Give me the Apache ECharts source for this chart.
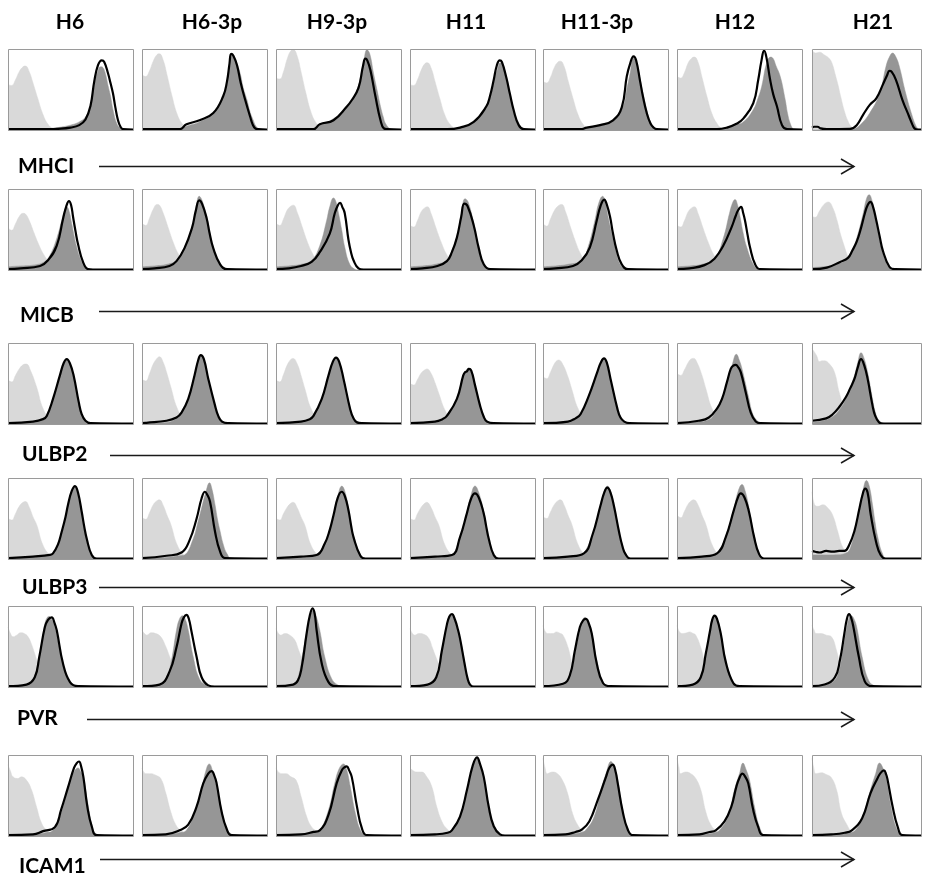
<!DOCTYPE html>
<html><head><meta charset="utf-8">
<script src="https://cdn.jsdelivr.net/npm/echarts@6/dist/echarts.min.js"></script>
<style>html,body{margin:0;padding:0;background:#fff}#c{width:926px;height:876px}</style>
</head><body><div id="c"></div>
<script>
// ---------------- DATA (x = % of log-fluorescence axis, y = % of panel height) ----------------
const CELL_LINES = ['H6', 'H6-3p', 'H9-3p', 'H11', 'H11-3p', 'H12', 'H21'];
const MARKERS = ['MHCI', 'MICB', 'ULBP2', 'ULBP3', 'PVR', 'ICAM1'];

// MHCI
const MHCI_ISOTYPE = [
  [[0,56],[3,55],[6,62],[9,72],[12,78],[14,79],[17,72],[20,58],[24,38],[28,19],[32,7],[36,2],[42,0.5],[100,0]],
  [[0,68],[3,66],[6,73],[9,85],[12,93],[14,94],[17,86],[20,68],[24,42],[28,20],[32,8],[36,3],[42,0.5],[100,0]],
  [[0,64],[3,63],[6,72],[9,88],[12,98],[14,99],[17,91],[20,72],[24,45],[28,22],[32,9],[36,3],[42,0.5],[100,0]],
  [[0,56],[3,55],[6,62],[9,74],[12,82],[14,83],[17,76],[20,60],[24,38],[28,18],[32,7],[36,2],[42,0.5],[100,0]],
  [[0,60],[3,58],[6,65],[9,77],[12,84],[14,85],[17,78],[20,61],[24,39],[28,19],[32,7],[36,2],[42,0.5],[100,0]],
  [[0,66],[3,64],[6,71],[9,83],[12,89],[14,90],[17,83],[20,65],[24,41],[28,20],[32,8],[36,2],[42,0.5],[100,0]],
  [[0,99],[3,95],[7,96],[11,93],[16,88],[19,80],[21,70],[24,55],[26,43],[30,22],[33,11],[36,4],[39,1],[45,0],[100,0]]
];
const MHCI_FILLED = [
  [[0,0],[30,0.5],[40,3],[50,6],[57,10],[62,16],[66,30],[69,55],[72,73],[74,78],[76,77],[78,69],[80,55],[82,42],[84,25],[87,8],[90,2],[93,0],[100,0]],
  [[0,0],[30,1],[36,5],[46,10],[57,21],[65,41],[68,60],[70.5,79],[72,93],[74,90],[78.5,70],[81,52],[84,37],[86.5,22],[89,12],[91,5],[93,2],[96,0],[100,0]],
  [[0,0],[30,1],[35,6],[46,14],[56.7,29],[64.8,50],[70,83],[72.8,99],[75,94],[78,70],[81,48],[83.6,29],[86,15],[87.6,8],[91.6,1],[95,0],[100,0]],
  [[0,0],[30,1],[40,3],[51,10],[61,29],[65,45],[67,58],[70,75],[72.4,83],[74,82],[77.7,62],[80,45],[83,25],[87,6],[91,1],[94,0],[100,0]],
  [[0,0],[30,1],[35,3],[45.6,6],[56,12],[64,29],[67,50],[69.7,70],[72.4,89],[74.5,85],[77.7,62],[80,45],[83,25],[86,10],[88.5,4],[92,0],[100,0]],
  [[0,0],[32,0.5],[37,2],[45,6],[53,10],[61,25],[65,40],[67.8,54],[71.8,83],[75,90],[77,88],[79,80],[82.6,66],[86.6,37],[88.5,20],[90.6,8],[93,1],[95,0],[100,0]],
  [[0,0],[35,0.5],[38,1],[44,6],[53,21],[62,45],[68,79],[71,90],[74,95],[77,90],[80,79],[86,45],[92,17],[95,6],[97,2],[99,0],[100,0]]
];
const MHCI_LINE = [
  [[0,1],[30,1],[40,1.5],[50,3],[57,6],[62,13],[66,30],[69,60],[72,80],[75,86],[77,84],[80,70],[82,58],[84,45],[86,27],[88,12],[90,4],[92,1],[100,0.5]],
  [[0,1],[30,1],[35.6,7],[46,12],[57,21],[65,42],[68,60],[70,82],[71.3,94],[73,92],[76,80],[79,58],[82.6,37],[86.6,16],[88.5,7],[90.6,2],[93,1],[100,0.5]],
  [[0,1],[30,1],[35,7],[46,12],[56.7,29],[60.7,37],[66,52],[69.6,79],[71.5,88],[73,86],[75.5,74],[79.6,41],[83.6,12],[86.3,2],[89,1],[100,0.5]],
  [[0,1],[30,1],[40,3],[51,10],[61,29],[64,42],[67,62],[69.5,80],[71.8,86],[73.5,84],[77,65],[80,44],[83,24],[87,6],[91,1],[100,0.5]],
  [[0,1],[30,1],[35,3],[45.6,6],[56,12],[63,28],[67,66],[69.7,82],[72.4,91],[74.5,86],[77.7,60],[80,41],[83,21],[86,8],[88.5,3],[91,1],[100,0.5]],
  [[0,1],[32,1],[40,3],[48,8],[53,14],[61,33],[65,62],[67.5,85],[69.7,98],[71.5,90],[74.5,62],[77,44],[80,29],[84,6],[88,1],[100,0.5]],
  [[0,3],[2,4],[5,4],[8,2],[13.6,1],[35,1.5],[41,6],[47,19],[53,31],[59,39],[65,56],[69,68],[71,73],[73,72],[77,62],[83,37],[89,17],[92,7],[94,2],[97,0.5],[100,0.5]]
];

// MICB
const MICB_ISOTYPE = [
  [[0,52],[3,49],[6,57],[9,66],[12,70],[14,69],[17,61],[21,45],[25,30],[29,18],[33,10],[37,5],[42,2],[48,0.5],[100,0]],
  [[0,57],[3,55],[6,64],[9,75],[12,81],[14,80],[17,70],[21,52],[25,34],[29,20],[33,11],[37,5],[42,2],[48,0.5],[100,0]],
  [[0,57],[3,55],[6,63],[9,74],[12,79],[14,80],[17,71],[21,53],[25,35],[29,21],[33,11],[37,5],[42,2],[48,0.5],[100,0]],
  [[0,55],[3,53],[6,61],[9,72],[12,77],[14,78],[17,69],[21,51],[25,34],[29,20],[33,11],[37,5],[42,2],[48,0.5],[100,0]],
  [[0,57],[3,54],[6,63],[9,73],[12,79],[15,81],[18,72],[22,53],[26,35],[30,20],[34,10],[38,5],[43,2],[48,0.5],[100,0]],
  [[0,55],[3,53],[6,61],[9,72],[12,77],[14,78],[17,69],[21,51],[25,34],[29,20],[33,11],[37,5],[42,2],[48,0.5],[100,0]],
  [[0,66],[3,65],[7,73],[11,81],[15,84],[19,77],[23,61],[26,45],[29,32],[33,16],[36,8],[38,5],[42,2],[48,0.5],[100,0]]
];
const MICB_FILLED = [
  [[0,4],[10,5],[20,6],[29,10],[33.5,18],[39,39],[43,61],[45,72],[47,78],[49,72],[51,57],[55,28],[59,10],[63,1],[66,0],[100,0]],
  [[0,4],[10,5],[20,7],[27.6,12],[34,28],[40,53],[43,75],[45.8,91],[48,86],[51.7,66],[54,48],[57,28],[62.5,7],[68,1],[71,0],[100,0]],
  [[0,4],[10,5],[20,7],[28.5,12],[35,30],[40.5,61],[43,78],[46,89],[48,84],[50,70],[52.5,50],[55,28],[59,7],[63,1],[66,0],[100,0]],
  [[0,4],[10,5],[20,7],[29.5,12],[33.5,24],[37.5,41],[41,68],[44,88],[46.5,84],[51,57],[55,28],[59,7],[64,1],[67,0],[100,0]],
  [[0,4],[10,5],[20,7],[31,12],[36,28],[41.5,61],[44.5,82],[47.7,91],[50,82],[52,66],[55,45],[57.6,28],[61.7,7],[67,1],[70,0],[100,0]],
  [[0,4],[10,5],[20,7],[30,14],[37,39],[42,70],[44.5,83],[46.4,87],[48.5,80],[50.4,66],[53,45],[55.8,28],[61,7],[65,1],[68,0],[100,0]],
  [[0,3],[10,4],[20,6],[33,14],[37,25],[41,39],[47,70],[50,88],[52.4,93],[55,86],[57.6,70],[60.5,48],[63.6,28],[69.7,5],[74,1],[77,0],[100,0]]
];
const MICB_LINE = [
  [[0,1],[10,2],[25.7,5],[32,12],[39,30],[44,63],[46.5,78],[48.8,85],[50.5,80],[52,66],[54,48],[56,32],[60,10],[64,1],[68,0.5],[100,0.5]],
  [[0,1],[10,2],[22,5],[27.6,11],[34,27],[40,52],[43,73],[45.8,86],[48,82],[51.7,64],[54,46],[57,27],[62.5,7],[68,1],[100,0.5]],
  [[0,1],[10,2],[20,5],[28.5,10],[35,22],[43,45],[47,70],[49.5,80],[51.3,83],[53,78],[55,70],[58,37],[60,22],[62,12],[66,2],[70,0.5],[100,0.5]],
  [[0,1],[10,2],[22,5],[29.5,11],[33.5,22],[37.5,40],[41,66],[43.4,82],[46,79],[51,55],[55,27],[59,7],[64,1],[100,0.5]],
  [[0,1],[10,2],[24,5],[31,12],[37.5,28],[43,61],[46,79],[49,87],[51,81],[53.6,66],[56,45],[59,24],[63,7],[68,1],[100,0.5]],
  [[0,1],[10,2],[22,6],[30,14],[37,30],[43.7,53],[47,67],[49,74],[51.2,78],[53,70],[54.4,61],[56.5,43],[58.4,28],[62.5,7],[66.5,1],[100,0.5]],
  [[0,1],[13.6,3],[25.8,10],[33,15],[37,24],[41,35],[45,52],[48.5,70],[51,80],[53.6,84],[56,78],[59,61],[62,42],[65,24],[71,4],[76,1],[100,0.5]]
];

// ULBP2
const ULBP2_ISOTYPE = [
  [[0,54],[3,52],[6,60],[9,68],[12,73],[14.7,74],[18,66],[23,45],[28,19],[33.5,6],[39,1],[45,0],[100,0]],
  [[0,55],[3,53],[6,62],[9,74],[12,81],[14,83],[17,76],[20,62],[23,46],[28,20],[33.5,6],[39,1],[45,0],[100,0]],
  [[0,54],[3,52],[6,61],[9,73],[12,80],[13.7,81],[17,74],[20,60],[23,44],[28,19],[33.5,6],[39,1],[45,0],[100,0]],
  [[0,50],[3,48],[6,55],[9,63],[12,67],[13.7,68],[17,62],[20,51],[23,38],[28,17],[33.5,5],[39,1],[45,0],[100,0]],
  [[0,58],[3,56],[6,64],[9,74],[11,78],[12.6,79],[16,73],[20,58],[23,43],[28,19],[33.5,6],[39,1],[45,0],[100,0]],
  [[0,62],[3,60],[6,67],[9,76],[11,80],[13.4,81],[16,76],[20,60],[23,44],[28,19],[33.5,6],[39,1],[45,0],[100,0]],
  [[0,93],[4,85],[7,77],[9,78],[11.5,78],[16,74],[20.6,64],[25,39],[31,14],[37,4],[43,1],[48,0],[100,0]]
];
const ULBP2_FILLED = [
  [[0,1],[20,2],[28,5],[31,10],[36,31],[41.5,60],[44.5,74],[47,79],[49.5,74],[52.5,60],[56.6,27],[59,13],[62,4],[66,1],[70,0],[100,0]],
  [[0,1],[20,2],[28,7],[31.6,14],[37,31],[42,60],[45,79],[47,85],[49.5,80],[53,56],[58.4,23],[61,11],[64,4],[69,1],[72,0],[100,0]],
  [[0,1],[20,2],[27,5],[30,10],[36.6,31],[42,60],[45.5,77],[48,82],[50.5,77],[54,56],[59.4,19],[62,8],[64.8,3],[68.8,1],[72,0],[100,0]],
  [[0,1],[20,2],[26,5],[29.5,10],[37.5,31],[42.6,60],[45,66],[47,69],[49,67],[52,48],[56,23],[59,10],[61.6,4],[67,1],[70,0],[100,0]],
  [[0,1],[20,2],[26,6],[30,12],[36.7,35],[43.4,64],[46,75],[48.8,81],[51,76],[54,56],[59.5,19],[62,9],[65,3],[69,1],[72,0],[100,0]],
  [[0,1],[20,3],[25,5],[28,8],[35,27],[40,52],[44,72],[47.5,86],[50,78],[52,68],[57.6,31],[60,15],[63,6],[67,1],[70,0],[100,0]],
  [[0,2],[10,4],[20,10],[25,17],[31,31],[39,60],[42,76],[45,88],[48,80],[51,64],[55.5,31],[58,15],[61.5,4],[66,1],[70,0],[100,0]]
];
const ULBP2_LINE = [
  [[0,1],[20,3],[28,6],[31,10],[36,31],[41.5,60],[44.5,75],[47,80],[49.5,75],[52.5,60],[56.6,27],[59,12],[62,4],[66,1],[100,0.5]],
  [[0,1],[3.5,1.5],[19.6,4],[27.6,8],[31.6,14],[37,31],[42,60],[45,79],[47,85],[49.5,80],[53,56],[58.4,23],[61,10],[64,3],[69,1],[100,0.5]],
  [[0,1],[20,3],[27,6],[30,10],[36.6,31],[42,60],[45.5,77],[48,82],[50.5,77],[54,56],[59.4,18],[62,7],[64.8,2],[68.8,1],[100,0.5]],
  [[0,1],[20,3],[26,6],[29.5,10],[37.5,31],[42.6,60],[44,64],[45.5,65],[47,68],[49,66],[52,48],[56,23],[59,9],[61.6,3],[67,1],[100,0.5]],
  [[0,1],[20,3],[26,7],[30,12],[36.7,35],[43.4,64],[46,75],[48.8,81],[51,76],[54,56],[59.5,19],[62,8],[65,3],[69,1],[100,0.5]],
  [[0,1],[17.4,4],[25.5,8],[32,19],[36,31],[40,52],[43,68],[45,72],[47,73],[49,70],[51,64],[55,39],[59,14],[63,3],[67,1],[100,0.5]],
  [[0,4],[13,7],[19,12],[25,21],[31,33],[35,44],[39,56],[42,70],[45,80],[48,72],[51,56],[55.5,23],[58,10],[61.5,2],[65,0.5],[100,0.5]]
];

// ULBP3
const ULBP3_ISOTYPE = [
  [[0,50],[3,48],[6,56],[9,65],[12,70],[14,71],[17,64],[20,52],[23,42],[28,17],[33.5,5],[39,1],[44,0],[100,0]],
  [[0,51],[3,49],[6,57],[9,67],[12,72],[14,73],[17,66],[20,54],[23,43],[28,18],[33.5,5],[39,1],[44,0],[100,0]],
  [[0,50],[3,48],[6,56],[9,64],[12,69],[13.7,70],[17,63],[20,52],[23,42],[28,17],[33.5,5],[39,1],[44,0],[100,0]],
  [[0,50],[3,48],[6,56],[9,64],[12,69],[13.4,70],[17,63],[20,52],[23,42],[28,17],[33.5,5],[39,1],[44,0],[100,0]],
  [[0,52],[3,50],[6,58],[9,67],[12,72],[14,73],[17,66],[20,54],[23,43],[28,18],[33.5,5],[39,1],[44,0],[100,0]],
  [[0,54],[3,51],[6,59],[9,68],[11.5,72],[13.4,73],[17,66],[20,54],[23,43],[28,18],[33.5,5],[39,1],[44,0],[100,0]],
  [[0,83],[2.4,67],[5.5,65],[10,67],[14.5,63],[19,54],[23.6,34],[28,15],[32.7,7],[37,2],[42,0],[100,0]]
];
const ULBP3_FILLED = [
  [[0,1],[20,2],[30,4],[36,7],[40,18],[43,34],[46,52],[48,67],[51,84],[53.6,90],[56,82],[59,58],[61,40],[63,25],[67,5],[71,0],[100,0]],
  [[0,1],[20,2],[30,4],[34,5],[41,25],[44.5,44],[47.7,63],[51,82],[54,94],[56,86],[58.4,67],[60.5,48],[62.5,34],[65,18],[67.8,7],[72,0],[100,0]],
  [[0,1],[20,2],[30,4],[32.5,5],[39,19],[43,36],[46,54],[49.5,78],[52.7,90],[55,84],[58,63],[60,45],[62,29],[67.5,5],[71.5,0],[100,0]],
  [[0,1],[20,2],[30,4],[33.5,5],[40,27],[45.6,58],[49,80],[52,90],[55,82],[59,58],[61,40],[63,25],[67,5],[71,0],[100,0]],
  [[0,1],[20,2],[30,5],[32.7,7],[39.4,29],[46,67],[49,84],[51.5,90],[54,84],[56.8,67],[60.9,34],[63.5,17],[66,7],[70,0],[100,0]],
  [[0,1],[20,2],[30,5],[32,7],[39,27],[45.6,63],[49,84],[52,92],[54.5,84],[57.6,63],[61.7,29],[65.7,7],[69.7,0],[100,0]],
  [[0,5],[10,5],[20,5],[31,7],[37,21],[40,40],[43.6,63],[47,86],[50,97],[52.5,90],[55.5,67],[58,44],[60,29],[64.5,7],[69,0],[100,0]]
];
const ULBP3_LINE = [
  [[0,1],[20,3],[33.5,5],[36,7],[40,18],[43,34],[46,52],[48,67],[51,84],[53.6,90],[56,82],[59,58],[61,40],[63,25],[67,5],[71,0.5],[100,0.5]],
  [[0,1],[19.6,4],[31.6,8],[38,23],[43.7,50],[47.7,75],[50.4,83],[52,80],[54.4,71],[58.4,34],[62.5,9],[66.5,1],[100,0.5]],
  [[0,1],[20,3],[32.5,5],[39,19],[43,36],[46,54],[49.5,76],[52.5,83],[55,78],[58,60],[60,42],[62,27],[67.5,4],[71.5,0.5],[100,0.5]],
  [[0,1],[20,3],[33.5,5],[40,27],[45.6,57],[49,75],[52,81],[55,76],[59,56],[61,40],[63,25],[67,5],[71,0.5],[100,0.5]],
  [[0,1],[20,3],[32.7,7],[39.4,29],[46,66],[49,82],[51.5,88],[54,82],[56.8,65],[60.9,33],[63.5,16],[66,6],[70,0.5],[100,0.5]],
  [[0,1],[20,3],[32,7],[39,27],[45.6,61],[49,77],[51,81],[54,76],[57.6,58],[61.7,27],[65.7,6],[69.7,0.5],[100,0.5]],
  [[0,10],[3,9],[7,8],[13,10],[19,9],[25,10],[29.7,10],[34,17],[38.8,34],[43.6,63],[46.5,80],[48.8,87],[51,82],[54,54],[58.8,21],[63,5],[67.6,0.5],[100,0.5]]
];

// PVR
const PVR_ISOTYPE = [
  [[0,74],[2,66],[4,62],[7,64],[10,67],[13,66],[16,62],[19,52],[22,38],[25,24],[28,14],[31,8],[35,3],[40,1],[45,0],[100,0]],
  [[0,70],[2,66],[4,64],[7,67],[11,66],[15,62],[19,50],[22,38],[26,22],[30,12],[34,5],[40,1],[46,0],[100,0]],
  [[0,72],[2,66],[4,64],[7,66],[11,64],[15,58],[18,46],[21,34],[25,20],[29,10],[33,4],[38,1],[45,0],[100,0]],
  [[0,72],[2,66],[4,64],[7,66],[11,65],[15,60],[18,48],[22,32],[26,18],[30,9],[34,4],[39,1],[45,0],[100,0]],
  [[0,76],[2,68],[4,66],[8,66],[10.7,68],[14,66],[16,64],[20,49],[24,25],[28,10],[33.5,2],[40,0],[100,0]],
  [[0,76],[2,68],[4.5,66],[8,67],[10,68],[13,66],[15,64],[19,49],[23,25],[27,10],[33,2],[39,0],[100,0]],
  [[0,76],[2,70],[3.7,66],[8.4,66],[13,64],[17.8,62],[22.5,45],[27,21],[32,8],[38,2],[43,0],[100,0]]
];
const PVR_FILLED = [
  [[0,1],[10,2],[15,3],[18.8,6],[22.8,21],[26.8,53],[29.5,78],[31.5,86],[33,87],[35,83],[37.5,74],[41.5,45],[44,28],[47,14],[52,3],[57.6,1],[62,0],[100,0]],
  [[0,1],[10,2],[15,4],[19.6,10],[23.6,33],[27.6,70],[30,84],[32.4,88],[34.5,84],[37,70],[41,37],[46,10],[51.7,2],[57,0],[100,0]],
  [[0,1],[10,2],[14,4],[17.7,12],[21.8,45],[25.8,78],[28,91],[29.8,95],[32,88],[35,70],[39,37],[44.6,10],[50,2],[54,0],[100,0]],
  [[0,1],[10,2],[16,4],[21.4,12],[25.5,45],[29.5,76],[31.5,86],[33.5,88],[36,82],[38.5,70],[40,60],[42,45],[44,28],[46,12],[48,4],[51,0],[100,0]],
  [[0,1],[10,2],[16,4],[21.4,10],[25.5,41],[29.5,70],[31.5,82],[33.5,86],[36,80],[39,66],[43,33],[48,6],[53.6,1],[57,0],[100,0]],
  [[0,1],[10,2],[15,4],[19,10],[23,41],[26.5,70],[28,82],[30,88],[32,84],[35,66],[39,33],[45,6],[50,1],[54,0],[100,0]],
  [[0,1],[10,2],[18,5],[24,16],[28.7,49],[32,74],[34,85],[36,88],[38.5,84],[41,74],[46,37],[52,8],[58,1],[62,0],[100,0]]
];
const PVR_LINE = [
  [[0,1],[14.7,3],[21.4,12],[25,37],[29.5,74],[32,83],[35,86],[37,80],[39,70],[44,29],[49.6,6],[56,1],[100,0.5]],
  [[0,1],[14,3],[22,19],[27.6,49],[31.6,78],[33.5,86],[35.6,89],[37.5,84],[39.4,70],[43.7,37],[47.7,12],[53,2],[58,0.5],[100,0.5]],
  [[0,1],[13.7,3],[17.5,8],[20.4,23],[24.5,66],[27,88],[29.3,97],[31,90],[32.5,70],[36.6,29],[42,6],[47.3,1],[100,0.5]],
  [[0,1],[14,3],[21,12],[25.5,45],[29.5,77],[31.5,87],[33.5,90],[36,83],[38.5,70],[40,60],[42,43],[44,26],[46,11],[48,3],[51,0.5],[100,0.5]],
  [[0,1],[16,4],[21.4,14],[25.5,45],[29.5,74],[32,82],[34.3,84],[36.5,79],[39,66],[43,29],[48,5],[53.6,1],[100,0.5]],
  [[0,1],[12.6,3],[19,12],[23,41],[26.5,70],[28,82],[30,88],[32,84],[35,66],[39,31],[45,5],[50,1],[100,0.5]],
  [[0,1],[11.5,3],[21,12],[25.6,33],[29.7,66],[32,84],[34,90],[36,85],[38,74],[43,37],[48.4,7],[55,1],[100,0.5]]
];

// ICAM1
const ICAM1_ISOTYPE = [
  [[0,88],[2,80],[4,73],[8,71],[10.7,73],[14.7,69],[18.8,57],[22.8,36],[26.8,16],[31,7],[36,3],[41.6,1],[48,0],[100,0]],
  [[0,84],[3,77],[7,77],[11,75],[15,71],[19,53],[23,30],[27,14],[31,7],[37,3],[43.6,1],[50,0],[100,0]],
  [[0,84],[4,77],[8,77],[12,73],[16,69],[20,49],[24.5,24],[28.5,11],[32.5,6],[38,2],[44.6,1],[50,0],[100,0]],
  [[0,84],[5.4,79],[9.4,79],[13.4,73],[17.4,61],[21.4,36],[25.5,18],[29.5,9],[35,3],[41,1],[47,0],[100,0]],
  [[0,96],[1.5,85],[3.5,77],[7.5,79],[11.5,77],[15.5,69],[19.6,53],[23.6,28],[27.6,14],[31.6,7],[37,3],[42.4,1],[48,0],[100,0]],
  [[0,96],[1.5,85],[3,77],[7,79],[11,77],[15,71],[19,57],[23,30],[27,14],[31,7],[36.7,3],[42,1],[48,0],[100,0]],
  [[0,96],[1.5,85],[3.7,77],[8.4,78],[13,76],[17.8,72],[22.5,57],[27,28],[32,14],[36.5,5],[43,1],[48,0],[100,0]]
];
const ICAM1_FILLED = [
  [[0,1],[20,2],[30,4],[36,7],[41.6,24],[47,53],[51,73],[53.5,81],[56,84],[58,80],[60.3,73],[64.3,36],[68.4,7],[72.4,1],[76,0],[100,0]],
  [[0,1],[20,2],[30,4],[35.5,7],[42,28],[47.6,57],[51,80],[53.8,89],[56.5,80],[59.7,61],[63.7,32],[67.7,9],[73,1],[76,0],[100,0]],
  [[0,1],[20,2],[30,4],[35,7],[42,32],[47,65],[50.5,83],[54,89],[56.5,82],[59.4,61],[63.5,28],[67.6,7],[71.5,1],[75,0],[100,0]],
  [[0,1],[20,2],[30,4],[33.5,7],[40,24],[45.6,57],[50,85],[53.6,96],[56,88],[59,73],[63,36],[67,12],[72,2],[76,0],[100,0]],
  [[0,1],[20,2],[30,4],[34,7],[41,24],[46.4,57],[50.4,77],[54.4,92],[57,84],[59.8,69],[63.8,32],[67.8,9],[72,1],[76,0],[100,0]],
  [[0,1],[20,2],[30,4],[34,7],[40.8,24],[46,57],[50,77],[52.8,90],[55,83],[58,69],[62,36],[66,11],[70,1],[74,0],[100,0]],
  [[0,1],[20,2],[33,4],[39.7,7],[47.5,28],[53.7,57],[58.4,77],[62,90],[65,84],[67.8,73],[72.5,36],[77,11],[82,1],[86,0],[100,0]]
];
const ICAM1_LINE = [
  [[0,1],[20,2],[28,6],[37.5,11],[42.4,32],[48,60],[52.8,84],[55,90],[56.8,92],[58.5,86],[60.3,73],[63.5,36],[67,12],[71,1],[100,0.5]],
  [[0,1],[19,2],[30,7],[37,14],[43.6,36],[49,65],[53,77],[55.6,80],[58,74],[59.7,65],[63.7,30],[67.7,9],[71.6,1],[100,0.5]],
  [[0,1],[20,2],[30,5],[35,7],[42,26],[48.5,65],[52.6,81],[55,85],[56.6,86],[58.5,81],[60.6,73],[64.8,36],[68.8,9],[72.7,1],[100,0.5]],
  [[0,1],[20,2],[30,4],[33.5,7],[40,24],[45.6,57],[50,86],[53.6,97],[56,89],[59,73],[63,36],[67,12],[72,2],[76,0.5],[100,0.5]],
  [[0,1],[18,2],[26,5],[31,8],[37,18],[43.7,44],[50.4,73],[53,84],[55.8,88],[58,80],[59.8,65],[63.8,30],[67.8,8],[72,1],[100,0.5]],
  [[0,1],[18,2],[26,5],[31,7],[38,18],[43.4,36],[47.5,61],[50,72],[52.3,77],[55,72],[57,65],[61,32],[65,11],[69,1],[100,0.5]],
  [[0,1],[17.8,2],[30,4],[36.5,7],[46,22],[53.7,53],[60,71],[63,78],[66,81],[68,76],[69.4,69],[74,36],[78.7,11],[83,1],[100,0.5]]
];

// ---------------- LAYOUT ----------------
const COL_LEFT = [8, 142, 276, 410, 543, 677, 812];
const COL_WIDTH = [125, 125, 125, 125, 125, 125, 109];
const ROW_TOP = [49, 189, 343, 478, 606, 755];
const ROW_HEIGHT = 81;
const HEADER_X = [70, 212, 337, 466, 597, 735, 873];
const HEADER_Y = 22;
const LABEL_X = [18, 20, 22, 22, 17, 19];
const LABEL_Y = [166, 315, 454, 587, 718, 866];
const ARROW_X0 = [99, 99, 110, 99, 87, 100];
const ARROW_Y = [166, 311, 455, 587, 719, 859];
const ARROW_X1 = 854;

const ROW_DATA = {
  MHCI: [MHCI_ISOTYPE, MHCI_FILLED, MHCI_LINE],
  MICB: [MICB_ISOTYPE, MICB_FILLED, MICB_LINE],
  ULBP2: [ULBP2_ISOTYPE, ULBP2_FILLED, ULBP2_LINE],
  ULBP3: [ULBP3_ISOTYPE, ULBP3_FILLED, ULBP3_LINE],
  PVR: [PVR_ISOTYPE, PVR_FILLED, PVR_LINE],
  ICAM1: [ICAM1_ISOTYPE, ICAM1_FILLED, ICAM1_LINE]
};

const FONT = 'bold 21px Lato, "Open Sans", sans-serif';
const grids = [], xAxes = [], yAxes = [], series = [], graphics = [];

MARKERS.forEach((m, r) => {
  const [iso, filled, line] = ROW_DATA[m];
  CELL_LINES.forEach((c, k) => {
    const i = grids.length;
    grids.push({ left: COL_LEFT[k], top: ROW_TOP[r], width: COL_WIDTH[k], height: ROW_HEIGHT, show: false });
    xAxes.push({ type: 'value', gridIndex: i, min: 0, max: 100, show: false });
    yAxes.push({ type: 'value', gridIndex: i, min: 0, max: 100, show: false });
    const common = { type: 'line', xAxisIndex: i, yAxisIndex: i, showSymbol: false, symbol: 'none',
      smooth: 0.45, silent: true, animation: false, clip: true };
    series.push(Object.assign({}, common, { name: m + ' ' + c + ' isotype', data: iso[k], z: 2,
      lineStyle: { color: '#d9d9d9', width: 0.5 }, areaStyle: { color: '#d9d9d9', opacity: 1 } }));
    series.push(Object.assign({}, common, { name: m + ' ' + c + ' filled', data: filled[k], z: 3,
      lineStyle: { color: '#969696', width: 0.5 }, areaStyle: { color: '#969696', opacity: 1 } }));
    series.push(Object.assign({}, common, { name: m + ' ' + c + ' line', data: line[k], z: 4,
      lineStyle: { color: '#000000', width: 2.2 } }));
    graphics.push({ type: 'rect', z: 100, silent: true,
      shape: { x: COL_LEFT[k] + 0.5, y: ROW_TOP[r] + 0.5, width: COL_WIDTH[k], height: ROW_HEIGHT },
      style: { fill: 'none', stroke: '#9a9a9a', lineWidth: 1 } });
  });
  graphics.push({ type: 'text', z: 100, style: { text: m, x: LABEL_X[r], y: LABEL_Y[r], font: FONT, fill: '#000', align: 'left', verticalAlign: 'middle' } });
  graphics.push({ type: 'line', z: 100, shape: { x1: ARROW_X0[r], y1: ARROW_Y[r] + 0.5, x2: ARROW_X1, y2: ARROW_Y[r] + 0.5 }, style: { stroke: '#1a1a1a', lineWidth: 1.5 } });
  graphics.push({ type: 'polyline', z: 100, shape: { points: [[ARROW_X1 - 13, ARROW_Y[r] - 7], [ARROW_X1, ARROW_Y[r] + 0.5], [ARROW_X1 - 13, ARROW_Y[r] + 8]] }, style: { stroke: '#1a1a1a', lineWidth: 1.5, fill: 'none' } });
});
CELL_LINES.forEach((c, k) => {
  graphics.push({ type: 'text', z: 100, style: { text: c, x: HEADER_X[k], y: HEADER_Y, font: FONT, fill: '#000', align: 'center', verticalAlign: 'middle' } });
});

const chart = echarts.init(document.getElementById('c'), null, { renderer: 'canvas' });
chart.setOption({ animation: false, backgroundColor: '#fff', grid: grids, xAxis: xAxes, yAxis: yAxes, series: series, graphic: graphics });
</script>
</body></html>
